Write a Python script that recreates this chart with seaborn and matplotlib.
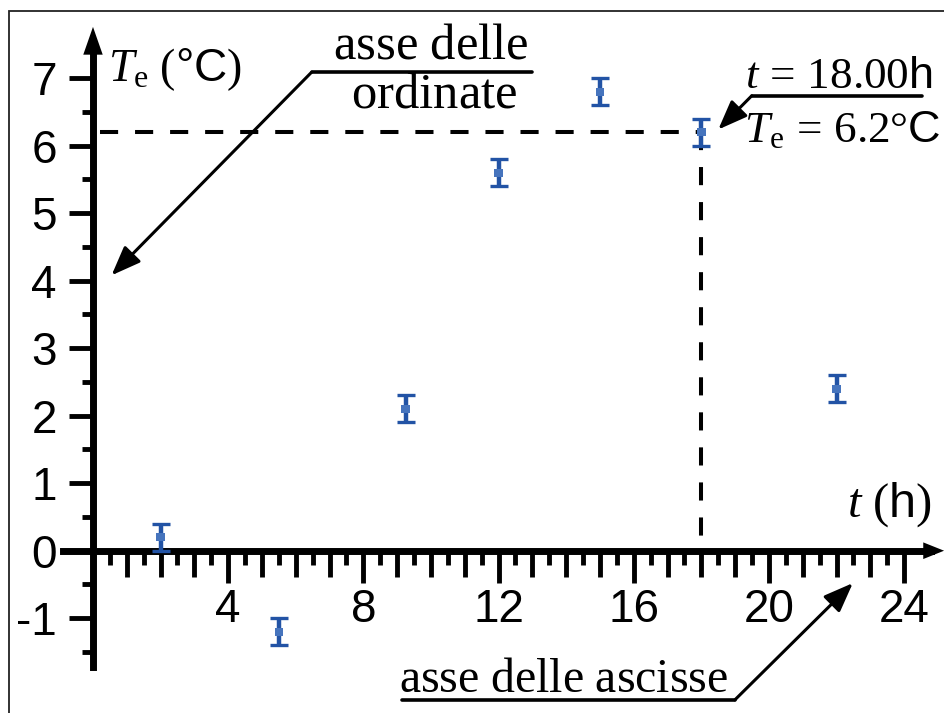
import matplotlib
matplotlib.use("Agg")
import matplotlib.pyplot as plt
import matplotlib.ticker as mticker
from matplotlib.patches import Rectangle
import seaborn as sns
import pandas as pd

# data
t_hours = [2, 5.5, 9.25, 12, 15, 18, 22]
temp_c = [0.2, -1.2, 2.1, 5.6, 6.8, 6.2, 2.4]
temp_err = [0.2, 0.2, 0.2, 0.2, 0.2, 0.2, 0.2]
highlight = 5  # the 18.00 h reading

x_major = list(range(1, 25))
x_minor = [i + 0.5 for i in range(0, 24)]
x_labelled = [4, 8, 12, 16, 20, 24]
y_major = list(range(-1, 8))
y_minor = [i + 0.5 for i in range(-2, 7)]

df = pd.DataFrame({"t": t_hours, "Te": temp_c, "err": temp_err})

sns.set_style("white")
plt.rcParams["font.family"] = ["Liberation Sans", "DejaVu Sans"]
plt.rcParams["axes.unicode_minus"] = False
plt.rcParams["axes.edgecolor"] = "black"
plt.rcParams["xtick.color"] = "black"
plt.rcParams["ytick.color"] = "black"
plt.rcParams["text.color"] = "black"
plt.rcParams["mathtext.fontset"] = "custom"
plt.rcParams["mathtext.rm"] = "Liberation Serif"
plt.rcParams["mathtext.it"] = "Liberation Serif:italic"
plt.rcParams["mathtext.sf"] = "Liberation Sans"
plt.rcParams["mathtext.bf"] = "Liberation Serif:bold"

fig = plt.figure(figsize=(9.44, 7.13), dpi=100)
ax = fig.add_axes([0.0627, 0.0572, 0.9381, 0.9136])
ax.set_xlim(-1.0, 25.2)
ax.set_ylim(-1.8, 7.85)

# frame around the picture (only top and left show)
fig.add_artist(Rectangle((9 / 944, -0.1), 1.2, 1.1 - 11 / 713, transform=fig.transFigure,
                         fill=False, lw=1.3, ec="#222222"))

# axes through the origin
for s in ["top", "right"]:
    ax.spines[s].set_visible(False)
ax.spines["left"].set_position(("data", 0))
ax.spines["bottom"].set_position(("data", 0))
ax.spines["left"].set_linewidth(5)
ax.spines["bottom"].set_linewidth(5)
ax.spines["bottom"].set_bounds(-0.9, 24.8)
ax.spines["left"].set_bounds(-1.72, 7.5)

ax.annotate("", xy=(25.18, 0), xytext=(24.3, 0), annotation_clip=False,
            arrowprops=dict(arrowstyle="-|>,head_length=0.75,head_width=0.3",
                            mutation_scale=20, color="black", lw=0, shrinkA=0, shrinkB=0))
ax.annotate("", xy=(0, 7.76), xytext=(0, 7.2), annotation_clip=False,
            arrowprops=dict(arrowstyle="-|>,head_length=1.0,head_width=0.35",
                            mutation_scale=20, color="black", lw=0, shrinkA=0, shrinkB=0))

# ticks
ax.xaxis.set_major_locator(mticker.FixedLocator(x_major))
ax.xaxis.set_minor_locator(mticker.FixedLocator(x_minor))
ax.yaxis.set_major_locator(mticker.FixedLocator(y_major))
ax.yaxis.set_minor_locator(mticker.FixedLocator(y_minor))
ax.xaxis.set_major_formatter(mticker.FuncFormatter(
    lambda v, p: f"{v:.0f}" if v in x_labelled else ""))
ax.yaxis.set_major_formatter(mticker.FuncFormatter(lambda v, p: f"{v:.0f}"))
ax.tick_params(axis="x", which="major", direction="out", length=18.5, width=3.5,
               labelsize=33, pad=8, bottom=True, colors="black")
ax.tick_params(axis="x", which="minor", direction="out", length=10, width=3.5, bottom=True,
               colors="black")
ax.tick_params(axis="y", which="major", direction="out", length=17, width=3.5,
               labelsize=33, pad=9, left=True, colors="black")
ax.tick_params(axis="y", which="minor", direction="out", length=8, width=3.5, left=True,
               colors="black")
for tick, loc in zip(ax.xaxis.get_major_ticks(), x_major):
    if loc in x_labelled:
        tick.tick1line.set_markersize(23)

# dashed guide to the highlighted reading
th, Th = t_hours[highlight], temp_c[highlight]
ax.plot([0.2, th], [Th, Th], color="black", lw=2.9, ls=(0, (4.5, 4.2)), zorder=2)
ax.plot([th, th], [Th, 0], color="black", lw=2.9, ls=(0, (4.5, 4.2)), zorder=2)

# measurements with error bars
ax.errorbar(df["t"], df["Te"], yerr=df["err"], fmt="none", ecolor="#2253a5",
            elinewidth=3.2, capsize=6.7, capthick=2.4, zorder=3)
sns.scatterplot(data=df, x="t", y="Te", ax=ax, marker="s", s=36, color="#4674bd",
                edgecolor="none", zorder=4, legend=False)
ax.set_xlabel("")
ax.set_ylabel("")

# axis names
ax.text(0.45, 6.96, r"$T_{\mathrm{e}}\ (\mathsf{°C})$", fontsize=33, va="baseline", ha="left")
ax.text(22.3, 0.50, r"$t\ (\mathsf{h})$", fontsize=35, va="baseline", ha="left")

# callouts
ax.text(10.0, 7.29, r"$\mathrm{asse\ delle}$", fontsize=36.5, va="baseline", ha="center")
ax.text(10.1, 6.56, r"$\mathrm{ordinate}$", fontsize=36.5, va="baseline", ha="center")
ax.plot([6.47, 12.98], [7.09, 7.09], color="black", lw=2.6, clip_on=False)
ax.annotate("", xy=(0.55, 4.08), xytext=(6.47, 7.09), annotation_clip=False,
            arrowprops=dict(arrowstyle="-|>,head_length=0.9,head_width=0.35",
                            mutation_scale=20, color="black", lw=2.2, shrinkA=0, shrinkB=0))

ax.text(19.3, 6.85, r"$t\,=\,\mathrm{18.00}\mathsf{h}$", fontsize=32.5, va="baseline",
        ha="left")
ax.text(19.25, 6.06, r"$T_{\mathrm{e}}\,=\,\mathrm{6.2°}\mathsf{C}$", fontsize=32.5,
        va="baseline", ha="left")
ax.plot([19.49, 24.52], [6.74, 6.74], color="black", lw=2.6, clip_on=False)
ax.annotate("", xy=(18.5, 6.24), xytext=(19.49, 6.74), annotation_clip=False,
            arrowprops=dict(arrowstyle="-|>,head_length=0.9,head_width=0.35",
                            mutation_scale=20, color="black", lw=2.2, shrinkA=0, shrinkB=0))

ax.text(13.93, -2.09, r"$\mathrm{asse\ delle\ ascisse}$", fontsize=34.5, va="baseline",
        ha="center")
ax.plot([9.13, 18.99], [-2.21, -2.21], color="black", lw=2.6, clip_on=False)
ax.annotate("", xy=(22.48, -0.48), xytext=(18.99, -2.21), annotation_clip=False,
            arrowprops=dict(arrowstyle="-|>,head_length=0.9,head_width=0.35",
                            mutation_scale=20, color="black", lw=2.2, shrinkA=0, shrinkB=0))

fig.savefig("out.png", dpi=100)
